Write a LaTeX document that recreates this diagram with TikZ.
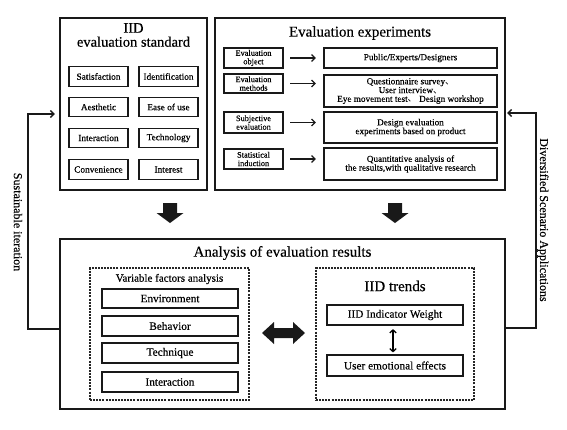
\documentclass[tikz,border=0pt]{standalone}
\usepackage{fontspec}
\setmainfont{Liberation Serif}[FakeBold=0.35]
\newfontfamily\cjk{Noto Sans CJK SC}
\usetikzlibrary{arrows.meta}
\newcommand{\fs}[2]{\fontsize{#1}{#2}\selectfont}
\newcommand{\dun}{{\cjk 、}}
\begin{document}
\begin{tikzpicture}[x=1pt,y=-1pt,
  outer/.style={draw=black!90, line width=1.4pt, inner sep=0pt},
  ibox/.style={draw=black!90, line width=1.15pt, inner sep=0.5pt, align=center},
  dbox/.style={draw=black!85, line width=1.2pt, dash pattern=on 2pt off 1.1pt, inner sep=0pt},
  title/.style={align=center, inner sep=0pt},
  conn/.style={draw=black!90, line width=1.3pt, -{Straight Barb[length=3.5pt,width=7pt]}},
  side/.style={inner sep=0pt, font=\fs{12}{13}},
  downarr/.pic={\fill[black!90] (-7,-10) -- (7,-10) -- (7,0) -- (13.5,0) -- (0,10) -- (-13.5,0) -- (-7,0) -- cycle;},
  hdarr/.pic={\fill[black!90] (-21.5,0) -- (-9.5,-11) -- (-9.5,-5) -- (9.5,-5) -- (9.5,-11) -- (21.5,0) -- (9.5,11) -- (9.5,5) -- (-9.5,5) -- (-9.5,11) -- cycle;}
]
\useasboundingbox[fill=white] (0,0) rectangle (567,429);

% ---------- IID evaluation standard ----------
\node[outer, minimum width=147pt, minimum height=172pt] (std) at (133.5,104) {};
\node[title, font=\fs{14.5}{14}] (stdT) at (133.5,35) {IID\\evaluation standard};
\tikzset{sb/.style={ibox, minimum width=59pt, minimum height=19.5pt, font=\fs{9.3}{10}}}
\node[sb] (s1) at (98.5,76.5) {Satisfaction};
\node[sb] (s2) at (168.5,76.5) {Identification};
\node[sb] (s3) at (98.5,107) {Aesthetic};
\node[sb] (s4) at (168.5,107) {Ease of use};
\node[sb] (s5) at (98.5,138) {Interaction};
\node[sb] (s6) at (168.5,138) {Technology};
\node[sb] (s7) at (98.5,169.5) {Convenience};
\node[sb] (s8) at (168.5,169.5) {Interest};

% ---------- Evaluation experiments ----------
\node[outer, minimum width=290pt, minimum height=172pt] (exp) at (360,104) {};
\node[title, font=\fs{15}{15}] (expT) at (360,33) {Evaluation experiments};
\tikzset{lb/.style={ibox, minimum width=59pt, font=\fs{8.3}{8.5}},
         rb/.style={ibox, minimum width=173pt, font=\fs{9.2}{8.8}}}
\node[lb, minimum height=20pt] (l1) at (253.5,58) {Evaluation\\object};
\node[lb, minimum height=19pt] (l2) at (253.5,83.5) {Evaluation\\methods};
\node[lb, minimum height=21pt] (l3) at (253.5,122.5) {Subjective\\evaluation};
\node[lb, minimum height=20pt] (l4) at (253.5,159) {Statistical\\induction};
\node[rb, minimum height=20pt] (r1) at (410.5,58) {Public/Experts/Designers};
\node[rb, minimum height=32pt] (r2) at (410.5,91) {Questionnaire survey\dun\\User interview\dun\\Eye movement test\dun\ Design workshop};
\node[rb, minimum height=31pt] (r3) at (410.5,127.5) {Design evaluation\\experiments based on product};
\node[rb, minimum height=32pt] (r4) at (410.5,164) {Quantitative analysis of\\the results,with qualitative research};
\foreach \a/\b in {l1/r1,l2/r2,l3/r3,l4/r4}
  \draw[conn, shorten <=6.5pt, shorten >=7.5pt] (\a.east) -- (\a.east -| \b.west);

% ---------- Analysis of evaluation results ----------
\node[outer, minimum width=445pt, minimum height=170pt] (res) at (282.5,324) {};
\node[title, font=\fs{15}{15}] (resT) at (282.5,253) {Analysis of evaluation results};

\node[dbox, minimum width=159pt, minimum height=132pt] (vfa) at (169.5,334) {};
\node[title, font=\fs{11}{12}] (vfaT) at (169.5,279) {Variable factors analysis};
\tikzset{bb/.style={ibox, minimum width=136pt, minimum height=20pt, font=\fs{11.3}{12}}}
\node[bb, minimum height=19pt] (v1) at (170,298.5) {Environment};
\node[bb] (v2) at (170,326) {Behavior};
\node[bb] (v3) at (170,353) {Technique};
\node[bb] (v4) at (170,382) {Interaction};

\node[dbox, minimum width=158pt, minimum height=132pt] (trd) at (395,334) {};
\node[title, font=\fs{15}{15}] (trdT) at (395,286) {IID trends};
\node[bb] (iw) at (395,315) {IID Indicator Weight};
\node[bb, minimum height=21pt] (ue) at (395,365.5) {User emotional effects};
\draw[line width=1.3pt, {Straight Barb[length=3pt,width=6.5pt]}-{Straight Barb[length=3pt,width=6.5pt]}, shorten <=3.5pt, shorten >=2pt] ([xshift=-2pt]iw.south) -- ([xshift=-2pt]ue.north);

% ---------- block arrows ----------
\pic at (170,213) {downarr};
\pic at (395,213) {downarr};
\pic at (283.5,333) {hdarr};

% ---------- feedback connectors ----------
\coordinate (lc) at (28,0);
\coordinate (rc) at (536,0);
\draw[conn, shorten >=4.5pt] ([yshift=-5pt]res.west) -- ([yshift=-5pt]res.west -| lc) |- ([yshift=-10pt]std.west);
\draw[conn, shorten >=1.5pt] ([yshift=-4pt]res.east) -- ([yshift=-4pt]res.east -| rc) |- ([yshift=-9pt]exp.east);
\node[side, rotate=-90] (sus) at (18,222) {Sustainable iteration};
\node[side, rotate=-90] (div) at (543,220) {Diversified Scenario Applications};
\end{tikzpicture}
\end{document}
